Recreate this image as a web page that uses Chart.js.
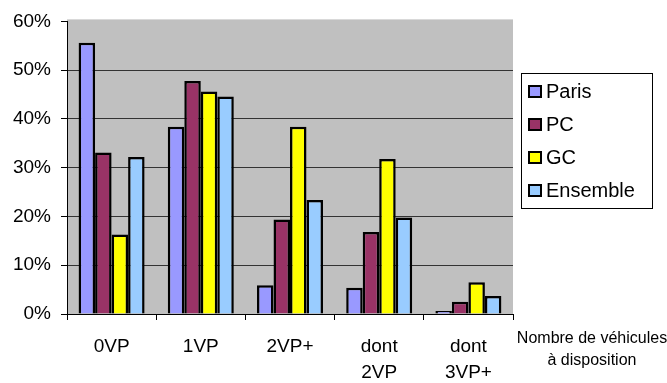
<!DOCTYPE html>
<html>
<head>
<meta charset="utf-8">
<script src="https://cdn.jsdelivr.net/npm/chart.js@4.4.0/dist/chart.umd.min.js"></script>
<style>
  html, body { margin: 0; padding: 0; background: #fff; }
  #wrap { width: 667px; height: 383px; }
</style>
</head>
<body>
<div id="wrap"><canvas id="vehChart" width="667" height="383"></canvas></div>
<script>
const categories = [['0VP'], ['1VP'], ['2VP+'], ['dont', '2VP'], ['dont', '3VP+']];
const paris = [55.6, 38.4, 5.9, 5.4, 0.6];
const pc = [33.1, 47.8, 19.4, 16.8, 2.5];
const gc = [16.3, 45.6, 38.4, 31.8, 6.5];
const ensemble = [32.2, 44.6, 23.4, 19.8, 3.7];
const seriesNames = ['Paris', 'PC', 'GC', 'Ensemble'];
const axisTitle = ['Nombre de véhicules', 'à disposition'];

const fontFamily = '"Liberation Sans", Arial, Helvetica, sans-serif';

// grey plot background
const plotBackground = {
  id: 'plotBackground',
  beforeDraw(chart) {
    const { ctx, chartArea } = chart;
    ctx.save();
    ctx.fillStyle = '#c0c0c0';
    ctx.fillRect(chartArea.left, chartArea.top - 2, chartArea.right - chartArea.left, chartArea.bottom - chartArea.top + 2);
    ctx.restore();
  }
};

// boxed legend + axis title on the right
const sideLegend = {
  id: 'sideLegend',
  afterDraw(chart) {
    const { ctx } = chart;
    ctx.save();
    ctx.strokeStyle = '#000';
    ctx.lineWidth = 1;
    ctx.strokeRect(521.5, 73.5, 131, 135);
    ctx.font = '20px ' + fontFamily;
    ctx.textBaseline = 'middle';
    ctx.fillStyle = '#000';
    chart.data.datasets.forEach((ds, i) => {
      const y = 91 + i * 33;
      ctx.fillStyle = ds.backgroundColor;
      ctx.fillRect(529, y - 5, 12, 11);
      ctx.lineWidth = 2;
      ctx.strokeStyle = '#000';
      ctx.strokeRect(529, y - 5, 12, 11);
      ctx.fillStyle = '#000';
      ctx.fillText(ds.label, 546, y + 1);
    });
    ctx.font = '16px ' + fontFamily;
    ctx.textAlign = 'center';
    ctx.fillText(axisTitle[0], 592, 339);
    ctx.fillText(axisTitle[1], 592, 361);
    ctx.restore();
  }
};

const colors = ['#9999ff', '#993366', '#ffff00', '#99ccff'];
const values = [paris, pc, gc, ensemble];

const ctx = document.getElementById('vehChart').getContext('2d');
new Chart(ctx, {
  type: 'bar',
  data: {
    labels: categories,
    datasets: seriesNames.map((name, i) => ({
      label: name,
      data: values[i],
      backgroundColor: colors[i],
      borderColor: '#000',
      borderWidth: 2.5,
      categoryPercentage: 0.74,
      barPercentage: 1
    }))
  },
  options: {
    responsive: false,
    animation: false,
    layout: { padding: { left: 0, right: 154, top: 20, bottom: 0 } },
    plugins: {
      legend: { display: false },
      tooltip: { enabled: false }
    },
    scales: {
      x: {
        offset: true,
        grid: { offset: true, drawOnChartArea: false, drawTicks: true, tickLength: 6, color: '#000', lineWidth: 1 },
        border: { color: '#000', width: 1 },
        ticks: { color: '#000', font: { family: fontFamily, size: 19, lineHeight: 1.35 }, padding: 14, maxRotation: 0 },
        afterFit(scale) { scale.height = 69; }
      },
      y: {
        min: 0,
        max: 60,
        grid: {
          color: (c) => (c.tick && c.tick.value === 60 ? 'rgba(0,0,0,0)' : '#333'),
          tickColor: '#000',
          tickLength: 6,
          lineWidth: 1
        },
        border: { color: '#000', width: 1 },
        ticks: {
          stepSize: 10,
          color: '#000',
          padding: 10,
          font: { family: fontFamily, size: 19 },
          callback: (v) => v + '%'
        },
        afterFit(scale) { scale.width = 67; }
      }
    }
  },
  plugins: [plotBackground, sideLegend]
});
</script>
</body>
</html>
